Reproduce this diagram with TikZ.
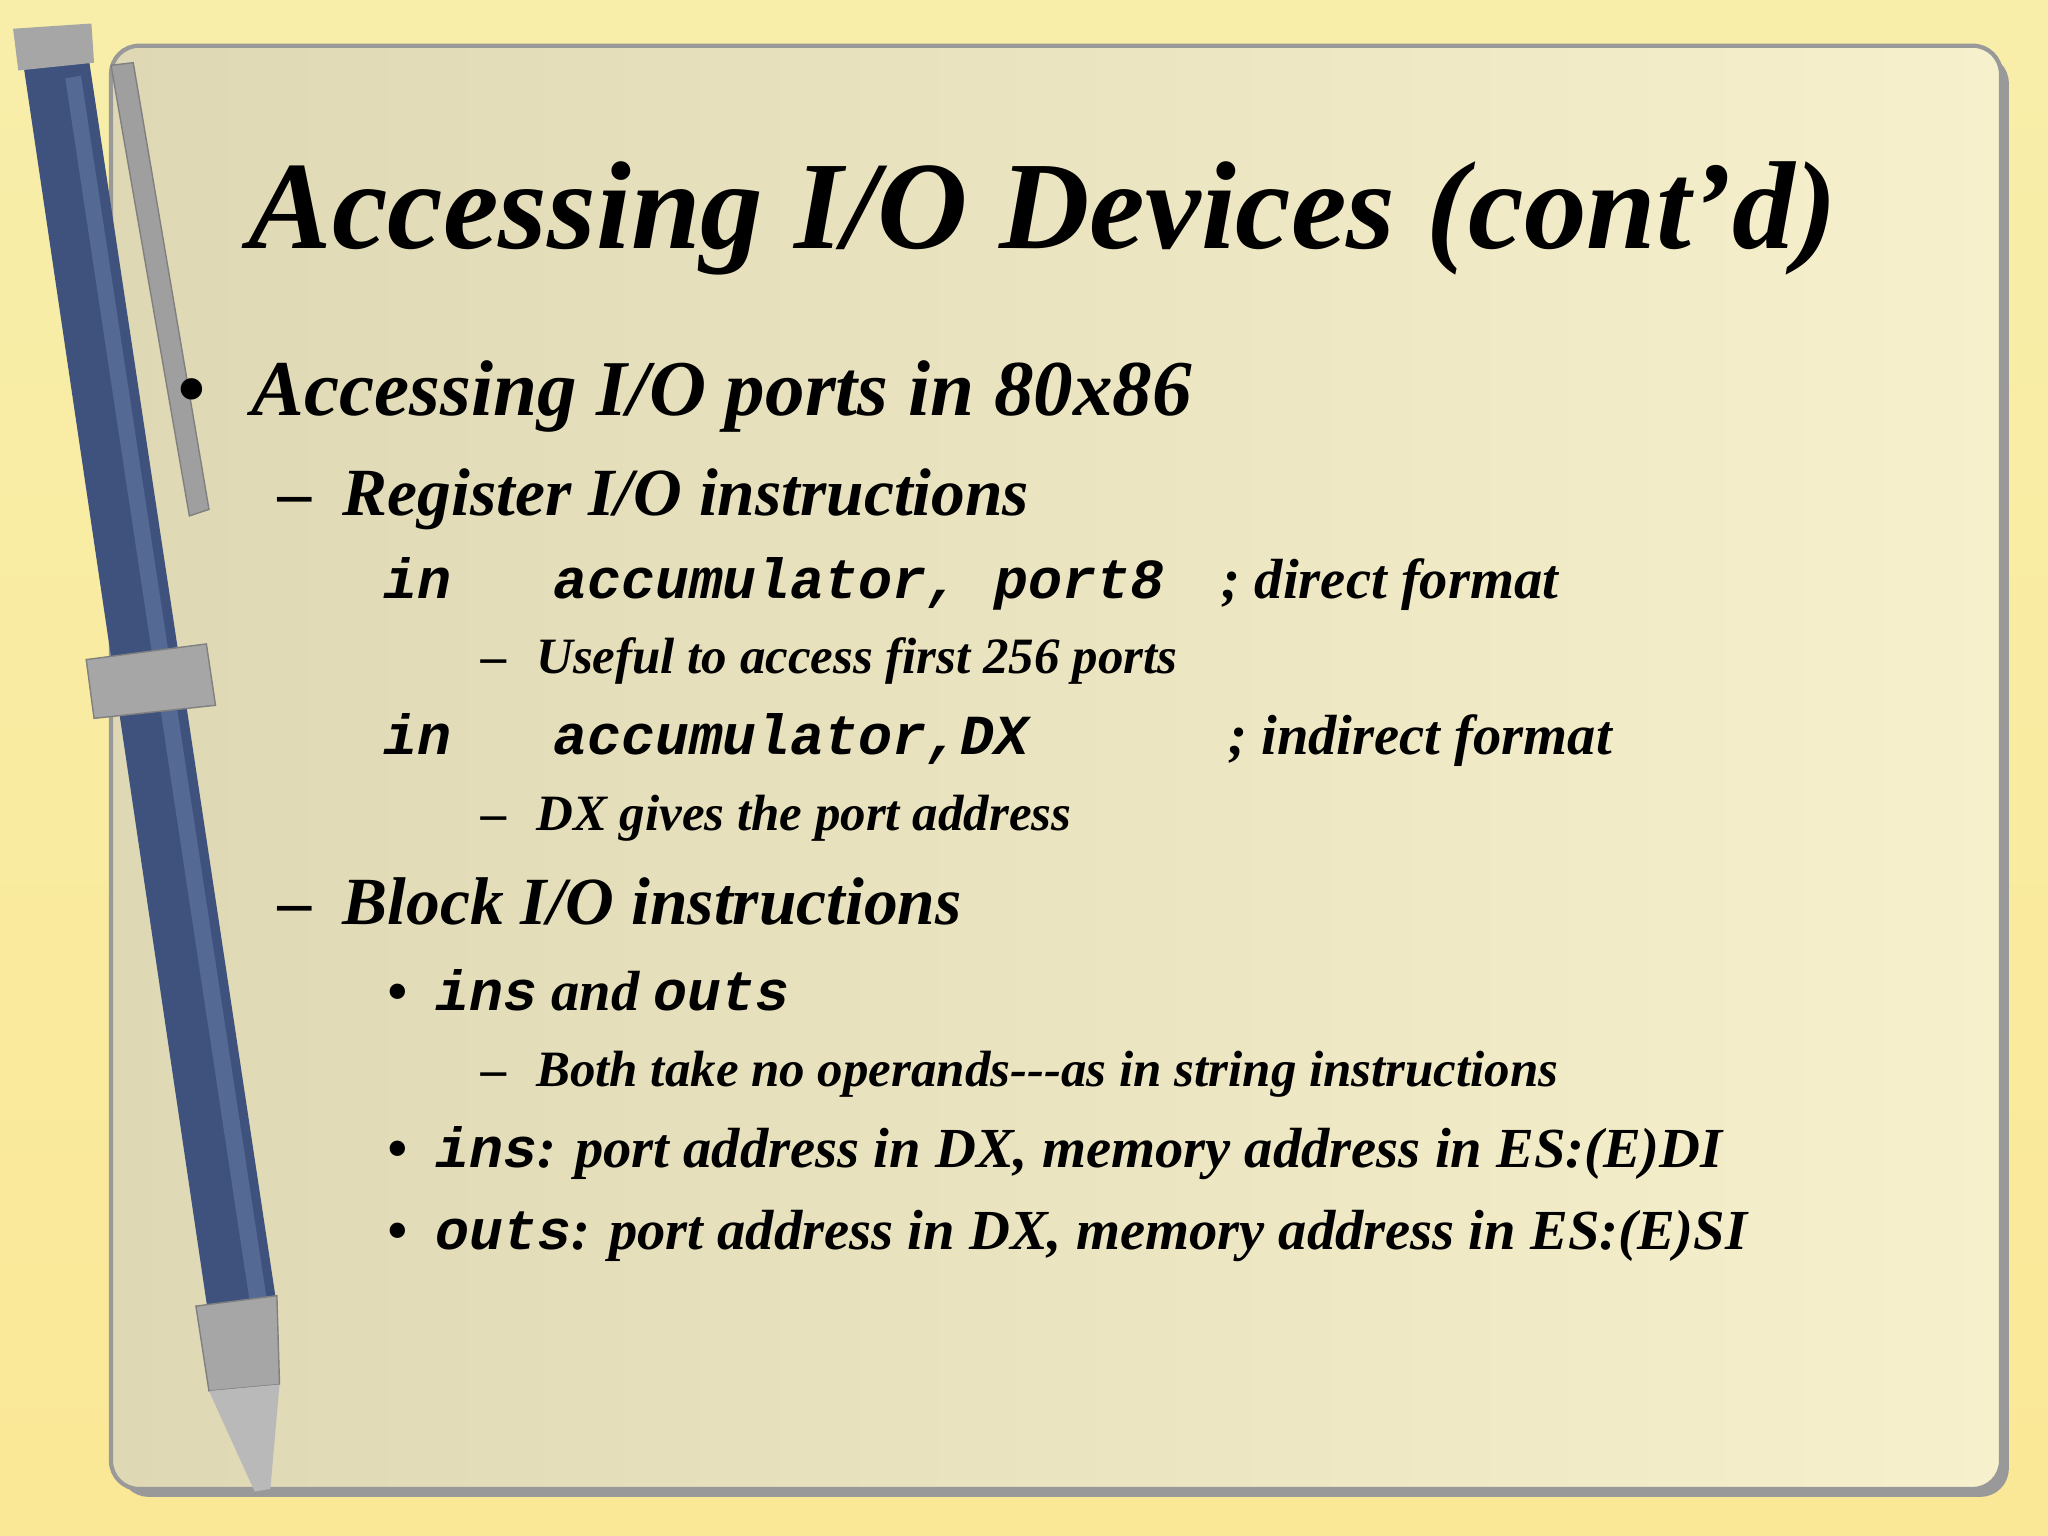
\documentclass[tikz,border=0pt]{standalone}
\usepackage{fontspec}
\setmainfont{Liberation Serif}
\setmonofont{Liberation Mono}
\definecolor{bgy}{RGB}{248,238,170}
\definecolor{bgy2}{RGB}{250,232,150}
\definecolor{cardl}{RGB}{222,216,180}
\definecolor{cardr}{RGB}{246,240,205}
\definecolor{penb}{RGB}{62,82,125}
\definecolor{penh}{RGB}{100,122,165}
\begin{document}
\begin{tikzpicture}[x=0.013061cm,y=-0.013061cm,
  t/.style={anchor=base west,inner sep=0,font=\bfseries\itshape},
  ti/.style={t,font=\fontsize{35.6}{40}\selectfont\bfseries\itshape},
  l1/.style={t,font=\fontsize{22.5}{26}\selectfont\bfseries\itshape},
  l2/.style={t,font=\fontsize{19.2}{22}\selectfont\bfseries\itshape},
  cd/.style={t,font=\fontsize{16.1}{20}\selectfont\bfseries\itshape},
  sm/.style={t,font=\fontsize{14.5}{17}\selectfont\bfseries\itshape}]
\useasboundingbox (0,0) rectangle (1568,1176);
\shade[top color=bgy,bottom color=bgy2] (0,0) rectangle (1568,1176);
\fill[black!40,rounded corners=8] (92,42) rectangle (1538,1146);
\shade[left color=cardl,right color=cardr,draw=black!40,line width=1.2pt,rounded corners=8] (85,35) rectangle (1532,1140);
% pen
\fill[penb] (18,50) -- (68,45) -- (212,1000) -- (160,1010) -- cycle;
\fill[penh,opacity=0.6] (50,60) -- (62,58) -- (205,1000) -- (192,1002) -- cycle;
\fill[gray!70] (10,22) -- (70,18) -- (72,48) -- (14,54) -- cycle;
\fill[gray!75,draw=gray] (85,50) -- (102,48) -- (160,390) -- (145,395) -- cycle;
\fill[gray!70,draw=gray] (66,505) -- (158,493) -- (165,540) -- (72,550) -- cycle;
\fill[gray!70,draw=gray] (150,1000) -- (212,992) -- (214,1060) -- (160,1065) -- cycle;
\fill[gray!55] (160,1065) -- (214,1060) -- (207,1140) -- (195,1142) -- cycle;
% text
\node[ti] (title) at (190,190) {Accessing I/O Devices (cont’d)};
\node[l1] (b1d) at (135,318) {•};
\node[l1] (b1) at (192,318) {Accessing I/O ports in 80x86};
\node[l2] (d1d) at (213,395) {–};
\node[l2] (d1) at (262,395) {Register I/O instructions};
\node[cd] (c1a) at (293,458) {\ttfamily in};
\node[cd] (c1b) at (423,458) {\ttfamily accumulator, port8};
\node[cd] (c1c) at (935,458) {; direct format};
\node[sm] (u1d) at (368,516) {–};
\node[sm] (u1) at (410,516) {Useful to access first 256 ports};
\node[cd] (c2a) at (293,578) {\ttfamily in};
\node[cd] (c2b) at (423,578) {\ttfamily accumulator,DX};
\node[cd] (c2c) at (940,578) {; indirect format};
\node[sm] (u2d) at (368,636) {–};
\node[sm] (u2) at (410,636) {DX gives the port address};
\node[l2] (d2d) at (213,708) {–};
\node[l2] (d2) at (262,708) {Block I/O instructions};
\node[cd] (e1d) at (296,774) {•};
\node[cd] (e1) at (333,774) {{\ttfamily ins} and {\ttfamily outs}};
\node[sm] (u3d) at (368,832) {–};
\node[sm] (u3) at (410,832) {Both take no operands-{}-{}-as in string instructions};
\node[cd] (e2d) at (296,894) {•};
\node[cd] (e2) at (333,894) {{\ttfamily ins}: port address in DX, memory address in ES:(E)DI};
\node[cd] (e3d) at (296,957) {•};
\node[cd] (e3) at (333,957) {{\ttfamily outs}: port address in DX, memory address in ES:(E)SI};
\end{tikzpicture}
\end{document}
